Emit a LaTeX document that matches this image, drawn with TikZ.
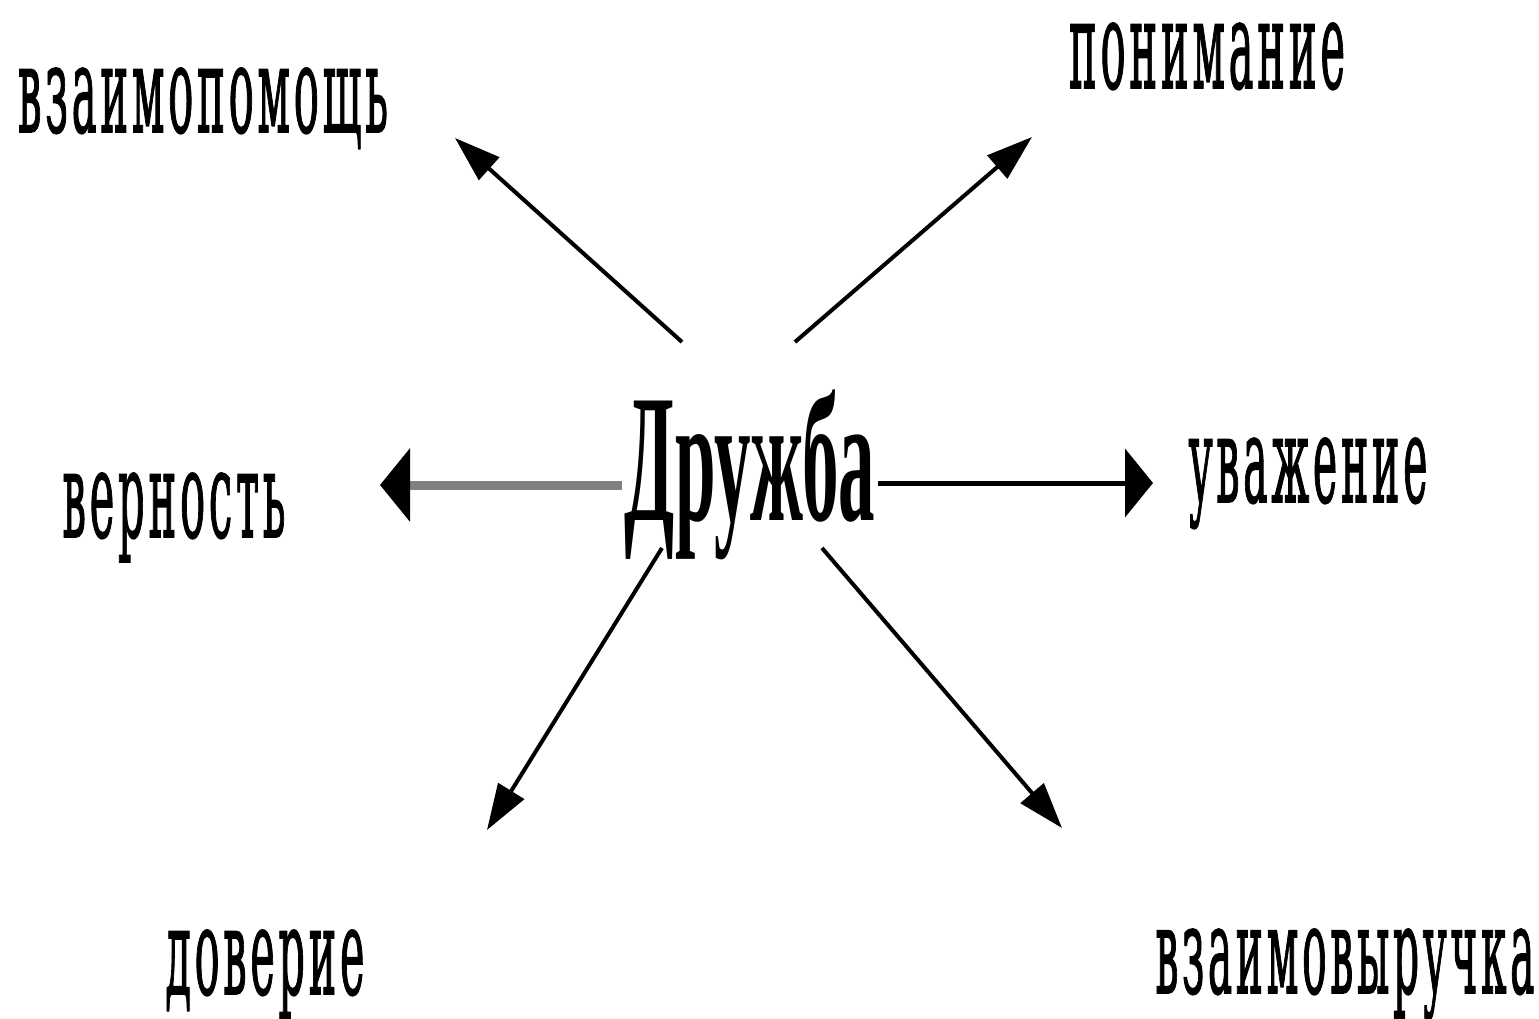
\documentclass[tikz,border=0pt]{standalone}
\usepackage{graphicx}
\usepackage{fontspec}
\setmainfont{Liberation Serif}
\newfontfamily\labfont[LetterSpace=9,FakeBold=1.6]{DejaVu Serif}
\usetikzlibrary{arrows.meta}
% fit a word to a given inked width and height above the baseline
\newcommand\fitword[3]{\resizebox{#1pt}{#2pt}{#3}}
\begin{document}
\begin{tikzpicture}[x=1pt,y=-1pt,
  lab/.style={inner sep=0pt, anchor=base, font=\labfont\fontsize{40}{40}\selectfont},
  diag/.style={line width=4pt, -{Triangle[length=46pt,width=30pt]}},
]
\useasboundingbox[fill=white] (0,0) rectangle (1539,1019);
\node[inner sep=0pt, anchor=base, font=\bfseries\fontsize{73}{73}\selectfont] (c) at (750,520) {\scalebox{1}[2.5]{Дружба}};
\node[lab] (l1) at (203,132) {\fitword{370}{64}{взаимопомощь}};
\node[lab] (l2) at (1207,88) {\fitword{276}{65}{понимание}};
\node[lab] (l3) at (174,537) {\fitword{223}{64}{верность}};
\node[lab] (l4) at (1308,502) {\fitword{239}{64}{уважение}};
\node[lab] (l5) at (265,994) {\fitword{199}{64}{доверие}};
\node[lab] (l6) at (1345,993) {\fitword{379}{64}{взаимовыручка}};
\coordinate (s1) at (682,342); \coordinate (t1) at (455,138);
\coordinate (s2) at (795,342); \coordinate (t2) at (1032,137);
\coordinate (s3) at (622,485); \coordinate (t3) at (380,485);
\coordinate (s4) at (878,483); \coordinate (t4) at (1153,483);
\coordinate (s5) at (662,548); \coordinate (t5) at (487,830);
\coordinate (s6) at (822,548); \coordinate (t6) at (1062,828);
\draw[diag] (s1) -- (t1);
\draw[diag] (s2) -- (t2);
\draw[diag] (s5) -- (t5);
\draw[diag] (s6) -- (t6);
\draw[line width=9pt, color=black!50, -{Triangle[black,length=30pt,width=72pt]}] (s3) -- (t3);
\draw[line width=5pt, -{Triangle[length=28pt,width=68pt]}] (s4) -- (t4);
\end{tikzpicture}
\end{document}
